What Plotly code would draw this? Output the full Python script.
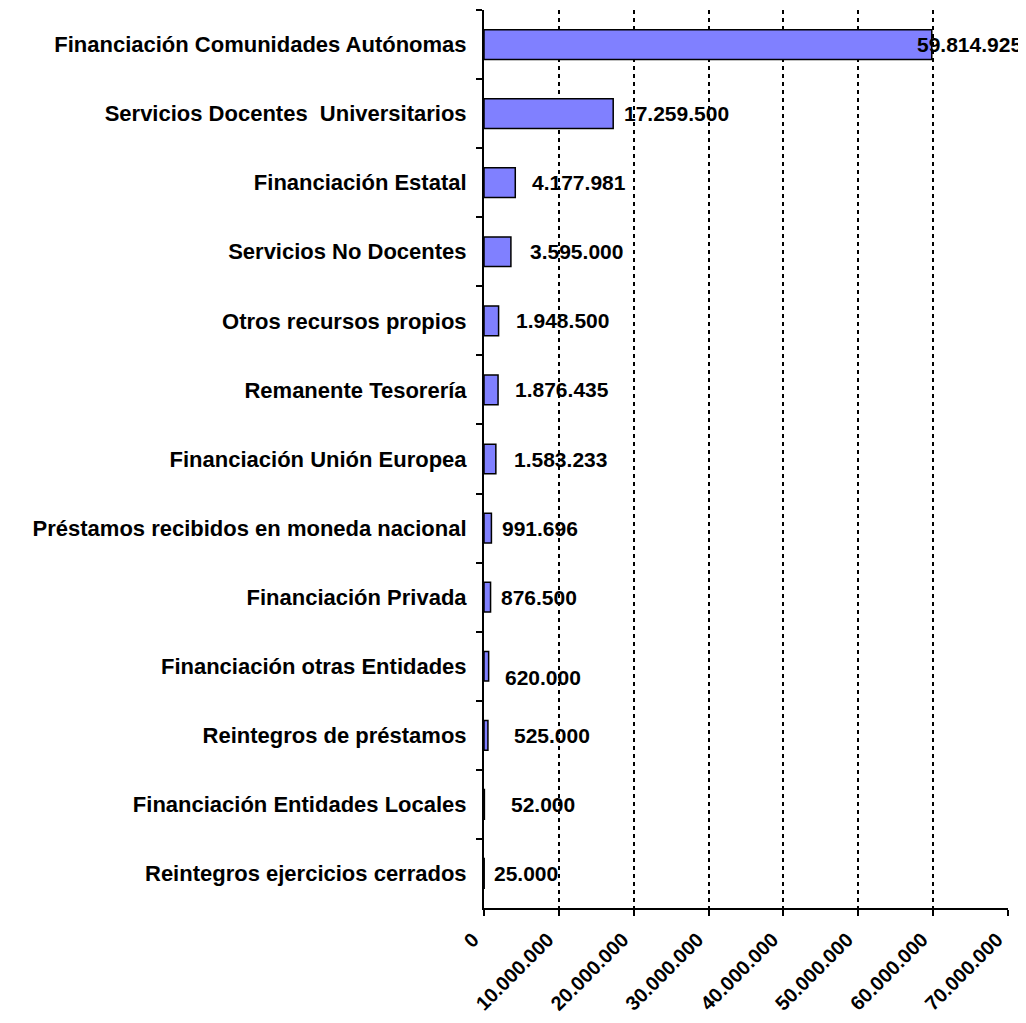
import plotly.graph_objects as go

categories = [
    "Financiación Comunidades Autónomas",
    "Servicios Docentes  Universitarios",
    "Financiación Estatal",
    "Servicios No Docentes",
    "Otros recursos propios",
    "Remanente Tesorería",
    "Financiación Unión Europea",
    "Préstamos recibidos en moneda nacional",
    "Financiación Privada",
    "Financiación otras Entidades",
    "Reintegros de préstamos",
    "Financiación Entidades Locales",
    "Reintegros ejercicios cerrados",
]
values = [59814925, 17259500, 4177981, 3595000, 1948500, 1876435, 1583233,
          991696, 876500, 620000, 525000, 52000, 25000]

x_ticks = [0, 10000000, 20000000, 30000000, 40000000, 50000000, 60000000, 70000000]

# style: pixel nudges of the data labels (Excel-like placement)
label_dx = [-17, 9, 15, 17, 15, 15, 16, 9, 8, 14, 24, 25, 8]
label_dy = [0, 0, 0, 0, 0, 0, 0, 0, 0, -11, 0, 0, 0]

FONT = "Liberation Sans, Arial, sans-serif"


def fmt(v):
    return f"{v:,}".replace(",", ".")


fig = go.Figure(
    go.Bar(
        x=values,
        y=categories,
        orientation="h",
        width=0.43,
        marker=dict(color="#8080FF", line=dict(color="black", width=1.5)),
        hoverinfo="skip",
    )
)

for c, v, dx, dy in zip(categories, values, label_dx, label_dy):
    fig.add_annotation(
        x=v, y=c, xref="x", yref="y", text=fmt(v), showarrow=False,
        xanchor="left", yanchor="middle", xshift=dx, yshift=dy,
        font=dict(family=FONT, size=21, color="black", weight="bold"),
    )

fig.update_layout(
    width=1026, height=1023,
    margin=dict(l=476, r=26, t=2, b=123),
    paper_bgcolor="white", plot_bgcolor="white",
    separators=",.",
    showlegend=False,
    font=dict(family=FONT, color="black", weight="bold"),
)

fig.update_xaxes(
    range=[0, 70000000],
    tickvals=x_ticks,
    tickformat=",d",
    tickangle=-45,
    tickfont=dict(family=FONT, size=20, color="black", weight="bold"),
    showgrid=True, gridcolor="black", gridwidth=2, griddash="4px,4px",
    zeroline=False,
    showline=True, linecolor="black", linewidth=2,
    ticks="outside", ticklen=6, tickwidth=2, tickcolor="black",
    ticklabelshift=-11,
    ticklabelstandoff=4,
)

fig.update_yaxes(
    categoryorder="array", categoryarray=categories,
    autorange="reversed",
    tickfont=dict(family=FONT, size=22, color="black", weight="bold"),
    showgrid=False, zeroline=False,
    showline=True, linecolor="black", linewidth=2,
    ticks="outside", ticklen=6, tickwidth=2, tickcolor="black",
    tickson="boundaries",
    ticklabelstandoff=11,
)

fig.write_html("out.html")
